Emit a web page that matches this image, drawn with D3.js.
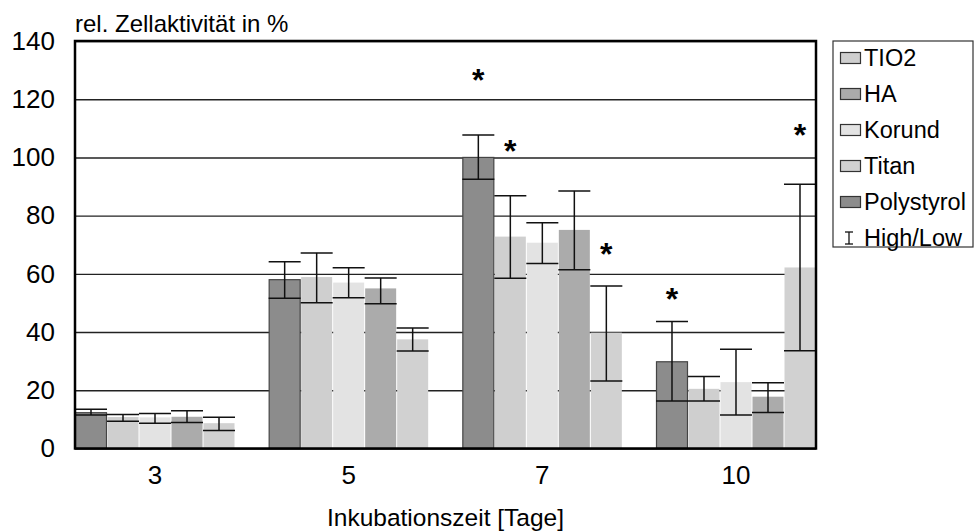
<!DOCTYPE html>
<html>
<head>
<meta charset="utf-8">
<script src="https://cdn.jsdelivr.net/npm/d3@7"></script>
<style>
    body { margin: 0; background: #fff; }
    #chart { width: 975px; height: 532px; }
    text { font-family: Arial, "Liberation Sans", sans-serif; }
</style>
</head>
<body>
<div id="chart"></div>
<script>
// Chart data
const categories = ['3', '5', '7', '10'];
const barSeries = ['Polystyrol', 'TIO2', 'Korund', 'HA', 'Titan'];
const legendSeries = ['TIO2', 'HA', 'Korund', 'Titan', 'Polystyrol'];
const yTicks = [0, 20, 40, 60, 80, 100, 120, 140];

const meanPolystyrol = [12.3, 58, 100, 29.8];
const meanTIO2 = [10.8, 58.9, 72.8, 20.5];
const meanKorund = [10.7, 57, 70.7, 22.8];
const meanHA = [10.9, 55, 75.1, 17.8];
const meanTitan = [8.7, 37.5, 39.8, 62.2];

const highPolystyrol = [13.5, 64.2, 107.7, 43.6];
const highTIO2 = [11.7, 67.2, 86.8, 24.7];
const highKorund = [12, 62.1, 77.6, 34.1];
const highHA = [13, 58.6, 88.5, 22.6];
const highTitan = [10.7, 41.4, 55.8, 90.8];

const lowPolystyrol = [11.5, 51.6, 92.5, 16.3];
const lowTIO2 = [9.4, 50.1, 58.5, 16.3];
const lowKorund = [8.7, 51.8, 63.6, 11.5];
const lowHA = [8.9, 49.7, 61.4, 12.4];
const lowTitan = [6.2, 33.5, 23.2, 33.6];

// Significance markers (category, series, position on value axis)
const starCategories = ['7', '7', '7', '10', '10'];
const starSeries = ['Polystyrol', 'TIO2', 'Titan', 'Polystyrol', 'Titan'];
const starValues = [129, 104.5, 69.3, 53.7, 110.2];

const seriesColors = {
    Polystyrol: '#8c8c8c',
    TIO2: '#cfcfcf',
    Korund: '#e3e3e3',
    HA: '#ababab',
    Titan: '#d1d1d1'
};

/**
 * Build per-bar records from the named arrays
 * @returns {Array} records {category, series, mean, high, low}
 */
function buildBars() {
    const means = { Polystyrol: meanPolystyrol, TIO2: meanTIO2, Korund: meanKorund, HA: meanHA, Titan: meanTitan };
    const highs = { Polystyrol: highPolystyrol, TIO2: highTIO2, Korund: highKorund, HA: highHA, Titan: highTitan };
    const lows = { Polystyrol: lowPolystyrol, TIO2: lowTIO2, Korund: lowKorund, HA: lowHA, Titan: lowTitan };
    const bars = [];
    categories.forEach((category, i) => {
        barSeries.forEach(series => {
            bars.push({
                category: category,
                series: series,
                mean: means[series][i],
                high: highs[series][i],
                low: lows[series][i]
            });
        });
    });
    return bars;
}

/**
 * Render the grouped bar chart with high/low whiskers
 * @param {string} containerId - Container element ID
 */
function renderChart(containerId) {
    const width = 975;
    const height = 532;
    const plot = { left: 75, right: 816, top: 41, bottom: 448.5 };

    const svg = d3.select(`#${containerId}`)
        .append('svg')
        .attr('width', width)
        .attr('height', height);

    const xScale = d3.scaleBand()
        .domain(categories)
        .range([plot.left, plot.right])
        .paddingInner(0.1738)
        .paddingOuter(0);

    const xInner = d3.scaleBand()
        .domain(barSeries)
        .range([0, xScale.bandwidth()]);

    const yScale = d3.scaleLinear()
        .domain([0, 140])
        .range([plot.bottom, plot.top]);

    // Grid lines
    svg.append('g')
        .attr('transform', `translate(${plot.left}, 0)`)
        .call(d3.axisRight(yScale)
            .tickValues(yTicks)
            .tickSize(plot.right - plot.left)
            .tickFormat('')
        )
        .call(g => g.select('.domain').remove())
        .selectAll('.tick line')
        .attr('stroke', '#222')
        .attr('stroke-width', 1.4);

    const bars = buildBars();

    // Bars
    svg.append('g')
        .selectAll('rect')
        .data(bars)
        .enter()
        .append('rect')
        .attr('x', d => xScale(d.category) + xInner(d.series) + 0.5)
        .attr('y', d => yScale(d.mean))
        .attr('width', xInner.bandwidth() - 1)
        .attr('height', d => yScale(0) - yScale(d.mean))
        .attr('fill', d => seriesColors[d.series])
        .attr('stroke', d => d.series === 'Polystyrol' ? '#444' : 'none')
        .attr('stroke-width', 1.2);

    // High/Low whiskers
    const whiskers = svg.append('g')
        .attr('stroke', '#111')
        .attr('stroke-width', 1.5);

    const center = d => xScale(d.category) + xInner(d.series) + xInner.bandwidth() / 2;

    whiskers.selectAll('.whisker')
        .data(bars)
        .enter()
        .append('line')
        .attr('x1', center)
        .attr('x2', center)
        .attr('y1', d => yScale(d.high))
        .attr('y2', d => yScale(d.low));

    ['high', 'low'].forEach(key => {
        whiskers.selectAll(`.cap-${key}`)
            .data(bars)
            .enter()
            .append('line')
            .attr('x1', d => center(d) - xInner.bandwidth() / 2)
            .attr('x2', d => center(d) + xInner.bandwidth() / 2)
            .attr('y1', d => yScale(d[key]))
            .attr('y2', d => yScale(d[key]));
    });

    // Significance stars
    const stars = starValues.map((v, i) => ({ category: starCategories[i], series: starSeries[i], value: v }));
    svg.append('g')
        .selectAll('text')
        .data(stars)
        .enter()
        .append('text')
        .attr('x', center)
        .attr('y', d => yScale(d.value) + 18)
        .attr('text-anchor', 'middle')
        .style('font-size', '32px')
        .style('font-weight', 'bold')
        .attr('fill', '#000')
        .text('*');

    // Plot frame
    svg.append('rect')
        .attr('x', plot.left)
        .attr('y', plot.top)
        .attr('width', plot.right - plot.left)
        .attr('height', plot.bottom - plot.top)
        .attr('fill', 'none')
        .attr('stroke', '#000')
        .attr('stroke-width', 2.5);

    // Y axis labels
    svg.append('g')
        .attr('transform', `translate(${plot.left}, 0)`)
        .call(d3.axisLeft(yScale)
            .tickValues(yTicks)
            .tickSize(0)
            .tickPadding(20)
        )
        .call(g => g.select('.domain').remove())
        .selectAll('text')
        .style('font-size', '26px')
        .style('font-family', 'Arial, "Liberation Sans", sans-serif')
        .attr('fill', '#000');

    // X axis labels
    svg.append('g')
        .attr('transform', `translate(0, ${plot.bottom})`)
        .call(d3.axisBottom(xScale)
            .tickSize(0)
            .tickPadding(17)
        )
        .call(g => g.select('.domain').remove())
        .selectAll('text')
        .style('font-size', '26px')
        .style('font-family', 'Arial, "Liberation Sans", sans-serif')
        .attr('fill', '#000');

    // Axis titles
    svg.append('text')
        .attr('x', plot.left)
        .attr('y', 32)
        .style('font-size', '24px')
        .attr('fill', '#000')
        .text('rel. Zellaktivität in %');

    svg.append('text')
        .attr('x', (plot.left + plot.right) / 2)
        .attr('y', 526)
        .attr('text-anchor', 'middle')
        .style('font-size', '24.5px')
        .attr('fill', '#000')
        .text('Inkubationszeit [Tage]');

    // Legend
    const legend = svg.append('g')
        .attr('transform', 'translate(833, 41)');

    legend.append('rect')
        .attr('x', 0)
        .attr('y', 0)
        .attr('width', 140)
        .attr('height', 206)
        .attr('fill', '#fff')
        .attr('stroke', '#333')
        .attr('stroke-width', 1.2);

    const itemY = i => 17 + i * 36;

    legendSeries.forEach((s, i) => {
        legend.append('rect')
            .attr('x', 7.5)
            .attr('y', itemY(i) - 5.5)
            .attr('width', 20)
            .attr('height', 11)
            .attr('fill', seriesColors[s])
            .attr('stroke', '#333')
            .attr('stroke-width', 1.2);

        legend.append('text')
            .attr('x', 31)
            .attr('y', itemY(i))
            .attr('dy', '0.35em')
            .style('font-size', '23.5px')
            .attr('fill', '#000')
            .text(s);
    });

    // High/Low legend entry
    const hlY = itemY(legendSeries.length);
    const hl = legend.append('g')
        .attr('stroke', '#111')
        .attr('stroke-width', 1.3);
    hl.append('line').attr('x1', 16).attr('x2', 16).attr('y1', hlY - 6).attr('y2', hlY + 6);
    hl.append('line').attr('x1', 12).attr('x2', 20).attr('y1', hlY - 6).attr('y2', hlY - 6);
    hl.append('line').attr('x1', 12).attr('x2', 20).attr('y1', hlY + 6).attr('y2', hlY + 6);

    legend.append('text')
        .attr('x', 31)
        .attr('y', hlY)
        .attr('dy', '0.35em')
        .style('font-size', '23.5px')
        .attr('fill', '#000')
        .text('High/Low');
}

renderChart('chart');
</script>
</body>
</html>
